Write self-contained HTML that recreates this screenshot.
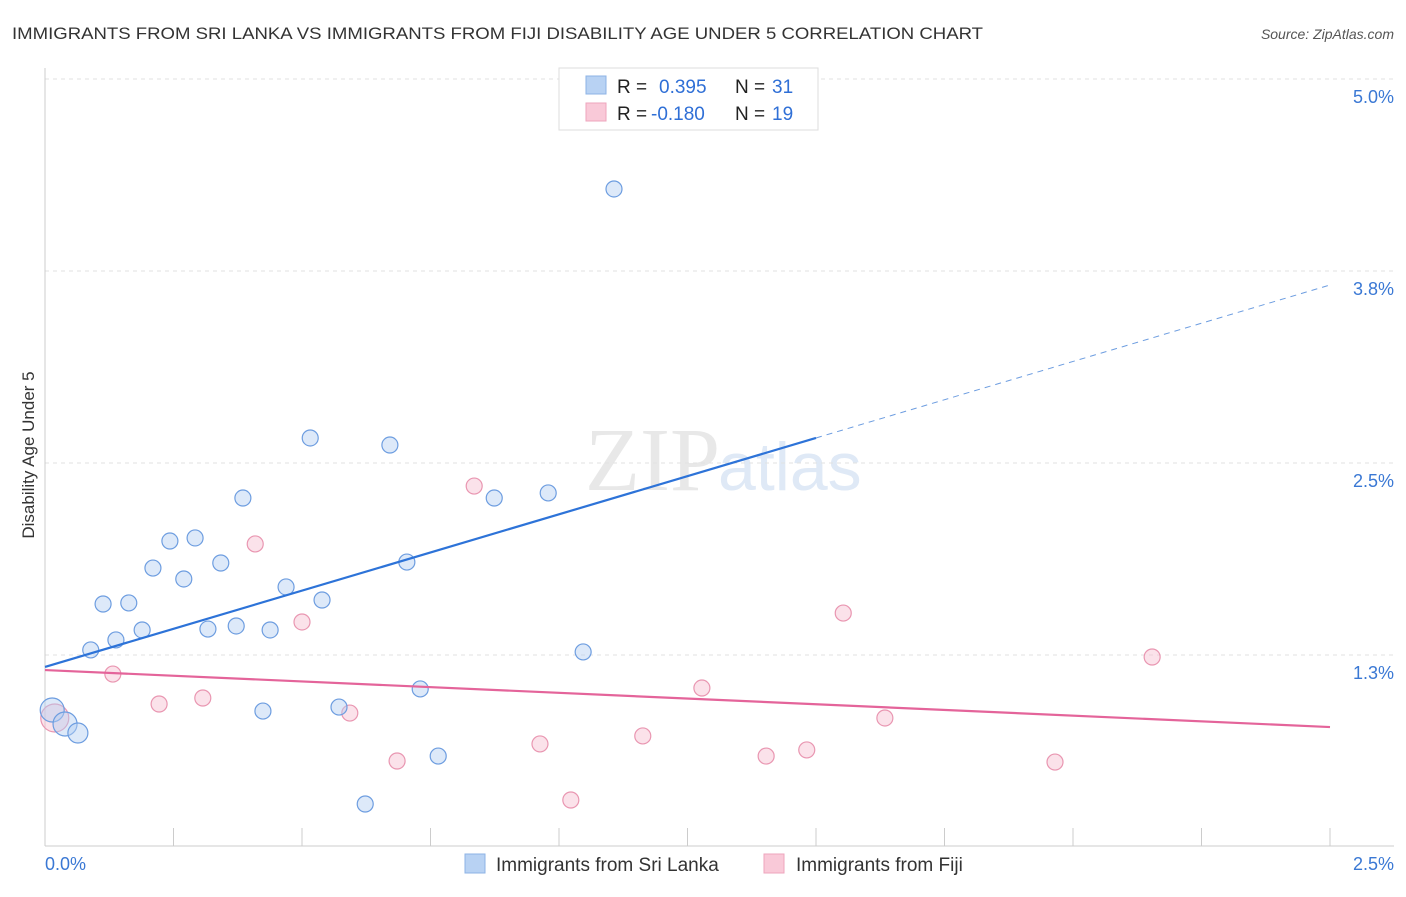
<!DOCTYPE html>
<html><head><meta charset="utf-8"><style>
body{margin:0;background:#fff;font-family:"Liberation Sans",sans-serif;}
</style></head><body>
<svg id="c" width="1406" height="892" xmlns="http://www.w3.org/2000/svg">
<text x="12" y="39" font-size="17" fill="#333" textLength="971" lengthAdjust="spacingAndGlyphs">IMMIGRANTS FROM SRI LANKA VS IMMIGRANTS FROM FIJI DISABILITY AGE UNDER 5 CORRELATION CHART</text>
<text x="1394" y="39" font-size="14" fill="#555" font-style="italic" text-anchor="end">Source: ZipAtlas.com</text>
<text x="720" y="490" font-size="90" fill="#e8e8e8" font-family="Liberation Serif" text-anchor="end">ZIP</text>
<text x="718" y="490" font-size="68" fill="#dfe9f6">atlas</text>
<text transform="translate(34,455) rotate(-90)" font-size="17" fill="#333" text-anchor="middle">Disability Age Under 5</text>
<g id="grid"></g><g id="marks"></g>
<g>
<rect x="559" y="68" width="259" height="62" fill="#fff" stroke="#ddd"/>
<rect x="586" y="76" width="20" height="18" fill="#b8d2f3" stroke="#8db3e6"/>
<rect x="586" y="103" width="20" height="18" fill="#f9c9d8" stroke="#eea5bd"/>
<text y="93" font-size="19" fill="#222"><tspan x="617">R =</tspan><tspan x="659" fill="#2f6fd6">0.395</tspan><tspan x="735" fill="#222">N =</tspan><tspan x="772" fill="#2f6fd6">31</tspan></text>
<text y="120" font-size="19" fill="#222"><tspan x="617">R =</tspan><tspan x="651" fill="#2f6fd6">-0.180</tspan><tspan x="735" fill="#222">N =</tspan><tspan x="772" fill="#2f6fd6">19</tspan></text>
</g>
<g>
<rect x="465" y="854" width="20" height="19" fill="#b8d2f3" stroke="#8db3e6"/>
<text x="496" y="871" font-size="19" fill="#333">Immigrants from Sri Lanka</text>
<rect x="764" y="854" width="20" height="19" fill="#f9c9d8" stroke="#eea5bd"/>
<text x="796" y="871" font-size="19" fill="#333">Immigrants from Fiji</text>
</g>
<text x="45" y="870" font-size="18" fill="#3a78d4">0.0%</text>
<text x="1394" y="870" font-size="18" fill="#3a78d4" text-anchor="end">2.5%</text>
</svg>
<script>
const yTicks=[5.0,3.75,2.5,1.25];
const yTickLabels=["5.0%","3.8%","2.5%","1.3%"];
const blueX=[.014,.039,.064,.089,.113,.163,.138,.189,.210,.243,.270,.292,.342,.317,.372,.385,.438,.424,.469,.516,.539,.572,.623,.671,.704,.730,.765,.874,.979,1.047,1.107];
const blueY=[.892,.801,.742,1.283,1.582,1.589,1.348,1.413,1.816,1.992,1.745,2.012,1.849,1.419,1.439,2.272,1.413,.885,1.693,2.663,1.608,.911,.280,2.617,1.855,1.029,.592,2.272,2.305,1.270,4.284];
const pinkX=[.019,.132,.222,.307,.409,.500,.593,.685,.835,.963,1.023,1.163,1.278,1.403,1.482,1.553,1.634,1.965,2.154];
const pinkY=[.840,1.126,.931,.970,1.973,1.465,.872,.560,2.350,.671,.306,.723,1.035,.592,.632,1.523,.840,.553,1.237];
const blueTrend=[1.172,2.663,3.659];
const pinkTrend=[1.152,0.781];
const X=v=>45+v*514, Y=v=>79+(5-v)*153.6;
const NS="http://www.w3.org/2000/svg";
function mk(t,a,p){const e=document.createElementNS(NS,t);for(const k in a)e.setAttribute(k,a[k]);p.appendChild(e);return e;}
const g=document.getElementById('grid'),m=document.getElementById('marks');
yTicks.forEach((v,i)=>{
 const l=mk('line',{x1:45,x2:1394,y1:Y(v),y2:Y(v),stroke:'#e2e2e2','stroke-dasharray':'4,4'},g);
 
 
 const t=mk('text',{x:1394,y:Y(v)+24,'font-size':18,fill:'#3a78d4','text-anchor':'end'},g);
 t.textContent=yTickLabels[i];
 
 
});
const ax=mk('line',{x1:45,x2:45,y1:68,y2:846,stroke:'#ccc'},g);


const bx=mk('line',{x1:45,x2:1394,y1:846,y2:846,stroke:'#ccc'},g);


for(let i=1;i<=10;i++){const t=mk('line',{x1:X(i*0.25),x2:X(i*0.25),y1:828,y2:846,stroke:'#ccc'},g);
 
 }
function dot(x,y,r,f,s,n){const c=mk('circle',{cx:X(x),cy:Y(y),r:r,fill:f,'fill-opacity':0.45,stroke:s,'stroke-width':1.2},m);
 
 }
pinkX.forEach((x,i)=>dot(x,pinkY[i],i==0?14:8,'#f7bfd1','#e996b1','fiji-point'));
blueX.forEach((x,i)=>dot(x,blueY[i],i<2?12:(i==2?10:8),'#b3cff2','#6d9de0','sri-lanka-point'));
let l1=mk('line',{x1:X(0),y1:Y(blueTrend[0]),x2:X(1.5),y2:Y(blueTrend[1]),stroke:'#2d73d8','stroke-width':2.2},m);


let l2=mk('line',{x1:X(1.5),y1:Y(blueTrend[1]),x2:X(2.5),y2:Y(blueTrend[2]),stroke:'#6d9de0','stroke-width':1,'stroke-dasharray':'6,5'},m);


let l3=mk('line',{x1:X(0),y1:Y(pinkTrend[0]),x2:X(2.5),y2:Y(pinkTrend[1]),stroke:'#e4649a','stroke-width':2.2},m);


</script>
</body></html>
